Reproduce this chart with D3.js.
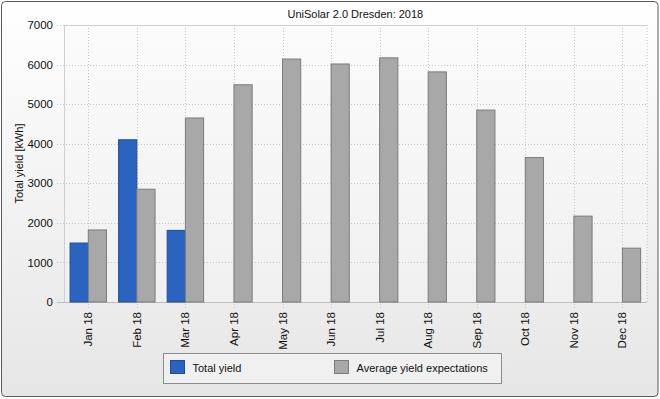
<!DOCTYPE html>
<html>
<head>
<meta charset="utf-8">
<script src="https://cdn.jsdelivr.net/npm/d3@7"></script>
<style>
  body { margin: 0; background: #fff; }
  text { font-family: "Liberation Sans", Arial, sans-serif; fill: #111; }
</style>
</head>
<body>
<div id="plot-container"></div>
<script>
// chart data
var months = ["Jan 18", "Feb 18", "Mar 18", "Apr 18", "May 18", "Jun 18",
              "Jul 18", "Aug 18", "Sep 18", "Oct 18", "Nov 18", "Dec 18"];
var totalYield = [1490, 4100, 1810, null, null, null, null, null, null, null, null, null];
var expectedYield = [1820, 2850, 4650, 5490, 6140, 6015, 6170, 5815, 4850, 3650, 2170, 1360];
var yTicks = [0, 1000, 2000, 3000, 4000, 5000, 6000, 7000];
var seriesNames = ["Total yield", "Average yield expectations"];

var width = 660, height = 399;
var margin = {left: 64, top: 25, right: 13.3, bottom: 97};
var plotW = width - margin.left - margin.right;
var plotH = height - margin.top - margin.bottom;

var svg = d3.select("#plot-container").append("svg")
  .attr("width", width)
  .attr("height", height);

var defs = svg.append("defs");
var bg = defs.append("linearGradient").attr("id", "bg").attr("x1", 0).attr("y1", 0).attr("x2", 0).attr("y2", 1);
bg.append("stop").attr("offset", "0%").attr("stop-color", "#ffffff");
bg.append("stop").attr("offset", "100%").attr("stop-color", "#e6e6e6");
var pg = defs.append("linearGradient").attr("id", "pg").attr("x1", 0).attr("y1", 0).attr("x2", 0).attr("y2", 1);
pg.append("stop").attr("offset", "0%").attr("stop-color", "#fbfbfb");
pg.append("stop").attr("offset", "100%").attr("stop-color", "#f0f0f0");

// outer frame
svg.append("rect")
  .attr("x", 1.5).attr("y", 1.5)
  .attr("width", width - 3.5).attr("height", height - 4)
  .attr("rx", 4).attr("ry", 4)
  .attr("fill", "url(#bg)")
  .attr("stroke", "#5a5a5a");

var g = svg.append("g").attr("transform", "translate(" + margin.left + "," + margin.top + ")");

g.append("rect")
  .attr("width", plotW).attr("height", plotH)
  .attr("fill", "url(#pg)");

var x = d3.scaleBand().domain(months).range([0, plotW]).padding(0);
var inner = d3.scaleBand().domain([0, 1]).range([x.bandwidth() * 0.125, x.bandwidth() * 0.875]);
var y = d3.scaleLinear().domain([0, 7000]).range([plotH, 0]);

// grid
g.selectAll(".hgrid").data(yTicks.slice(1)).enter().append("line")
  .attr("x1", -7).attr("x2", plotW)
  .attr("y1", function(d){ return Math.round(y(d)) + 0.5; })
  .attr("y2", function(d){ return Math.round(y(d)) + 0.5; })
  .attr("stroke", "#c4c4c4")
  .attr("stroke-dasharray", "1,2");

g.selectAll(".vgrid").data(months).enter().append("line")
  .attr("x1", function(d){ return Math.round(x(d) + x.bandwidth() / 2) + 0.5; })
  .attr("x2", function(d){ return Math.round(x(d) + x.bandwidth() / 2) + 0.5; })
  .attr("y1", 0).attr("y2", plotH + 7)
  .attr("stroke", "#c4c4c4")
  .attr("stroke-dasharray", "1,2");

g.append("line").attr("x1", plotW + 0.5).attr("x2", plotW + 0.5).attr("y1", 0).attr("y2", plotH)
  .attr("stroke", "#c4c4c4").attr("stroke-dasharray", "1,2");
g.append("line").attr("x1", 0).attr("x2", plotW).attr("y1", 0.5).attr("y2", 0.5)
  .attr("stroke", "#cfcfcf");
g.append("line").attr("x1", 0.5).attr("x2", 0.5).attr("y1", 0).attr("y2", plotH)
  .attr("stroke", "#cfcfcf");
g.append("line").attr("x1", -7).attr("x2", plotW).attr("y1", plotH + 0.5).attr("y2", plotH + 0.5)
  .attr("stroke", "#bdbdbd");

// bars
var colors = ["#2b64c0", "#a8a8a8"];
var strokes = ["#1f4c96", "#7b7b7b"];
[totalYield, expectedYield].forEach(function(series, si){
  var pts = series.map(function(v, i){ return {month: months[i], value: v}; })
    .filter(function(d){ return d.value != null; });
  g.selectAll(".bar" + si).data(pts).enter()
    .append("rect")
    .attr("class", "bar" + si)
    .attr("x", function(d){ return x(d.month) + inner(si); })
    .attr("y", function(d){ return y(d.value); })
    .attr("width", inner.bandwidth())
    .attr("height", function(d){ return plotH - y(d.value); })
    .attr("fill", colors[si])
    .attr("stroke", strokes[si])
    .attr("stroke-width", 1);
});

// axes labels
var yAxis = d3.axisLeft(y).tickValues(yTicks).tickFormat(d3.format("d")).tickSize(0).tickPadding(11);
var ya = g.append("g").call(yAxis);
ya.select(".domain").remove();
ya.selectAll("text").style("font-size", "11.5px").attr("fill", "#111");

var xAxis = d3.axisBottom(x).tickSize(0);
var xa = g.append("g").attr("transform", "translate(0," + plotH + ")").call(xAxis);
xa.select(".domain").remove();
xa.selectAll("text")
  .style("font-size", "11.5px")
  .attr("fill", "#111")
  .attr("text-anchor", "end")
  .attr("transform", "rotate(-90)")
  .attr("x", -10)
  .attr("y", 0)
  .attr("dy", "0.35em");

// title
svg.append("text")
  .attr("x", margin.left + plotW / 2)
  .attr("y", 18)
  .attr("text-anchor", "middle")
  .style("font-size", "11px")
  .text("UniSolar 2.0 Dresden: 2018");

svg.append("text")
  .attr("transform", "translate(23," + (margin.top + plotH / 2) + ") rotate(-90)")
  .attr("text-anchor", "middle")
  .style("font-size", "11px")
  .text("Total yield [kWh]");

// legend
var lg = svg.append("g").attr("transform", "translate(163.5,353.5)");
lg.append("rect").attr("width", 338).attr("height", 30)
  .attr("fill", "#f0f0f0").attr("stroke", "#8c8c8c");
var legendX = [7, 171];
seriesNames.forEach(function(name, i){
  lg.append("rect")
    .attr("x", legendX[i]).attr("y", 7)
    .attr("width", 14).attr("height", 13)
    .attr("fill", colors[i]).attr("stroke", strokes[i]);
  lg.append("text")
    .attr("x", legendX[i] + 22).attr("y", 18)
    .style("font-size", "11px")
    .text(name);
});
</script>
</body>
</html>
